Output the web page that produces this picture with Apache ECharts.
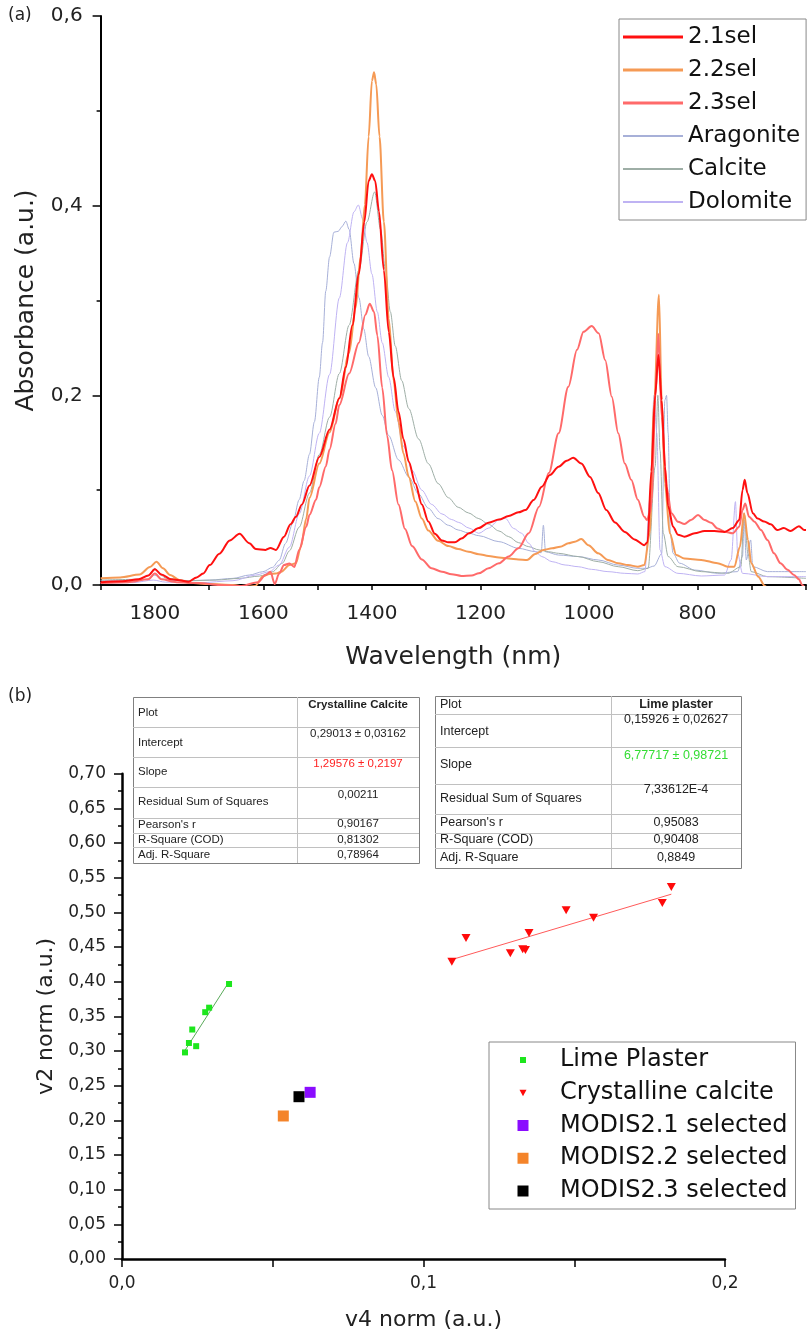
<!DOCTYPE html>
<html><head><meta charset="utf-8">
<script src="https://cdn.jsdelivr.net/npm/echarts@6/dist/echarts.min.js"></script>
<style>html,body{margin:0;padding:0;background:#fff}#c{width:809px;height:1338px}</style>
</head><body><div id="c"></div>
<script>
// ===== Panel (a): spectra, [wavelength, absorbance] =====
const sel21 = [[1900,0.003],[1860,0.004],[1830,0.006],[1812,0.01],[1800,0.0165],[1788,0.011],[1770,0.006],[1755,0.005],[1738,0.0035],[1723,0.008],[1711,0.012],[1699,0.021],[1681,0.033],[1662,0.047],[1644,0.054],[1626,0.044],[1614,0.038],[1596,0.037],[1587,0.039],[1577,0.037],[1562,0.051],[1550,0.064],[1540,0.072],[1529,0.085],[1515,0.105],[1497,0.135],[1478,0.164],[1460,0.197],[1448,0.23],[1436,0.274],[1424,0.328],[1414,0.383],[1406,0.426],[1400,0.433],[1394,0.426],[1387,0.394],[1378,0.332],[1369,0.267],[1360,0.219],[1351,0.183],[1342,0.154],[1332,0.13],[1320,0.107],[1308,0.085],[1296,0.067],[1284,0.054],[1271,0.047],[1259,0.045],[1247,0.045],[1235,0.049],[1221,0.0545],[1203,0.06],[1185,0.0657],[1166,0.069],[1148,0.0727],[1130,0.0766],[1117,0.079],[1102,0.0896],[1087,0.1037],[1072,0.116],[1056,0.1248],[1041,0.131],[1029,0.1343],[1014,0.128],[998,0.114],[983,0.097],[968,0.079],[952,0.066],[934,0.056],[916,0.048],[898,0.042],[892,0.045],[885,0.12],[878,0.2],[872,0.2425],[866,0.195],[860,0.125],[854,0.083],[845,0.0615],[836,0.053],[824,0.051],[805,0.0545],[787,0.057],[769,0.057],[750,0.056],[735,0.06],[723,0.0685],[717,0.1],[713,0.111],[708,0.097],[698,0.0756],[689,0.07],[677,0.067],[665,0.064],[653,0.058],[641,0.06],[628,0.057],[613,0.062],[603,0.058],[600,0.058]];
const sel22 = [[1900,0.007],[1864,0.008],[1828,0.011],[1809,0.019],[1797,0.0246],[1785,0.0176],[1772,0.0105],[1754,0.005],[1736,0.0024],[1699,0.001],[1656,0.0],[1632,-0.002],[1615,-0.001],[1601,0.009],[1589,0.0116],[1577,0.012],[1567,0.014],[1552,0.021],[1540,0.023],[1531,0.04],[1521,0.07],[1515,0.092],[1497,0.128],[1478,0.161],[1460,0.197],[1442,0.245],[1430,0.292],[1421,0.346],[1413,0.401],[1406,0.473],[1400,0.5315],[1396,0.5406],[1392,0.528],[1386,0.473],[1378,0.383],[1369,0.281],[1360,0.2155],[1351,0.172],[1342,0.139],[1332,0.114],[1320,0.088],[1308,0.07],[1296,0.0575],[1278,0.0466],[1259,0.041],[1241,0.038],[1222,0.035],[1203,0.0325],[1185,0.0306],[1166,0.029],[1148,0.028],[1130,0.027],[1114,0.0264],[1099,0.0327],[1084,0.0369],[1068,0.0387],[1053,0.0404],[1038,0.0439],[1026,0.0457],[1014,0.0485],[1001,0.042],[983,0.0334],[965,0.0264],[946,0.023],[928,0.021],[910,0.0193],[898,0.021],[888,0.0545],[880,0.19],[871,0.306],[866,0.195],[860,0.107],[851,0.0545],[839,0.0316],[824,0.028],[793,0.0264],[763,0.023],[744,0.0193],[732,0.0193],[722,0.04],[714,0.0756],[707,0.0475],[701,0.023],[688,0.0088],[676,-0.001],[665,-0.01]];
const sel23 = [[1900,0.002],[1850,0.003],[1812,0.006],[1800,0.012],[1788,0.006],[1760,0.003],[1720,0.002],[1680,0.0],[1640,-0.001],[1610,0.003],[1596,0.0105],[1587,0.014],[1579,0.001],[1571,0.012],[1562,0.021],[1552,0.0228],[1543,0.019],[1534,0.037],[1521,0.0615],[1515,0.074],[1503,0.09],[1497,0.103],[1485,0.125],[1478,0.143],[1467,0.17],[1460,0.19],[1442,0.223],[1424,0.2555],[1412,0.285],[1404,0.2965],[1396,0.288],[1390,0.263],[1381,0.208],[1372,0.1575],[1363,0.121],[1351,0.085],[1339,0.059],[1326,0.041],[1308,0.027],[1290,0.0176],[1271,0.014],[1253,0.0114],[1235,0.0096],[1216,0.01],[1203,0.0123],[1185,0.0176],[1166,0.0229],[1148,0.03],[1130,0.0387],[1111,0.0545],[1092,0.0826],[1074,0.118],[1056,0.16],[1038,0.209],[1022,0.248],[1010,0.267],[995,0.273],[982,0.2654],[970,0.237],[958,0.1986],[946,0.16],[934,0.128],[922,0.111],[910,0.09],[898,0.072],[893,0.0685],[888,0.0756],[884,0.09],[878,0.195],[872,0.265],[866,0.1775],[857,0.1037],[848,0.0756],[836,0.0668],[824,0.0643],[812,0.0685],[799,0.0738],[787,0.0685],[775,0.0657],[763,0.0597],[750,0.0562],[735,0.0545],[723,0.0615],[717,0.079],[712,0.086],[705,0.072],[695,0.0668],[683,0.058],[671,0.0475],[659,0.0334],[647,0.023],[634,0.016],[622,0.0105],[613,0.006],[607,0.0],[600,-0.005]];
const aragonite = [[1900,0.0045],[1840,0.0045],[1812,0.006],[1800,0.0105],[1788,0.006],[1748,0.0045],[1699,0.0052],[1656,0.007],[1626,0.0105],[1601,0.014],[1583,0.0186],[1571,0.026],[1559,0.044],[1546,0.065],[1534,0.09],[1525,0.11],[1515,0.138],[1506,0.172],[1497,0.219],[1491,0.2555],[1485,0.31],[1478,0.346],[1470,0.372],[1462,0.373],[1455,0.378],[1448,0.3837],[1442,0.375],[1433,0.339],[1424,0.303],[1415,0.27],[1406,0.241],[1393,0.208],[1381,0.179],[1369,0.1575],[1351,0.132],[1332,0.114],[1314,0.096],[1296,0.081],[1278,0.07],[1259,0.063],[1241,0.058],[1223,0.055],[1203,0.052],[1166,0.0457],[1130,0.0387],[1099,0.0352],[1088,0.034],[1084,0.063],[1080,0.035],[1056,0.0316],[1020,0.03],[983,0.0264],[946,0.021],[910,0.0176],[894,0.0176],[880,0.02],[866,0.033],[860,0.195],[857,0.2],[854,0.16],[850,0.0545],[845,0.0334],[833,0.023],[805,0.0158],[763,0.0123],[726,0.0141],[717,0.03],[714,0.0685],[710,0.0264],[702,0.0475],[698,0.0193],[671,0.0141],[600,0.0141]];
const calcite = [[1900,0.0052],[1828,0.006],[1812,0.01],[1800,0.0176],[1788,0.01],[1779,0.007],[1736,0.0045],[1687,0.0052],[1644,0.007],[1607,0.0094],[1583,0.014],[1565,0.023],[1552,0.036],[1534,0.061],[1515,0.097],[1497,0.1375],[1478,0.177],[1460,0.223],[1442,0.274],[1424,0.332],[1409,0.383],[1395,0.4145],[1384,0.375],[1375,0.332],[1366,0.288],[1357,0.252],[1345,0.2155],[1332,0.186],[1314,0.154],[1296,0.128],[1278,0.107],[1259,0.092],[1241,0.082],[1222,0.076],[1203,0.07],[1185,0.064],[1166,0.057],[1148,0.051],[1130,0.0447],[1111,0.0404],[1092,0.037],[1074,0.035],[1056,0.0334],[1020,0.03],[983,0.0246],[946,0.0193],[910,0.0151],[891,0.0176],[878,0.125],[873,0.2],[869,0.142],[863,0.0545],[854,0.03],[836,0.0193],[793,0.0141],[744,0.0123],[720,0.0193],[714,0.0756],[707,0.0334],[701,0.0141],[671,0.0088],[600,0.007]];
const dolomite = [[1900,0.0021],[1840,0.0025],[1803,0.0052],[1780,0.003],[1717,0.0024],[1656,0.0045],[1614,0.0105],[1589,0.014],[1571,0.021],[1552,0.04],[1534,0.075],[1515,0.115],[1497,0.16],[1478,0.222],[1460,0.3027],[1445,0.361],[1433,0.3935],[1425,0.4007],[1417,0.386],[1409,0.361],[1400,0.328],[1390,0.288],[1381,0.2555],[1369,0.219],[1357,0.183],[1342,0.1465],[1326,0.121],[1308,0.1],[1290,0.085],[1271,0.075],[1253,0.069],[1240,0.066],[1221,0.06],[1203,0.0545],[1185,0.06],[1166,0.0685],[1154,0.0703],[1139,0.0597],[1124,0.0545],[1111,0.044],[1099,0.0352],[1087,0.03],[1068,0.0246],[1044,0.0211],[1020,0.0193],[995,0.0165],[965,0.0141],[934,0.0123],[910,0.0116],[897,0.0141],[888,0.09],[880,0.2],[875,0.16],[869,0.037],[860,0.0193],[836,0.0123],[793,0.0095],[750,0.0105],[738,0.0264],[730,0.0879],[726,0.0334],[717,0.0123],[671,0.0088],[600,0.0088]];
const spectraNames = ['2.1sel','2.2sel','2.3sel','Aragonite','Calcite','Dolomite'];

// ===== Panel (b): v4 norm vs v2 norm =====
const limeV4 = [0.0209,0.0222,0.0233,0.0246,0.0276,0.0289,0.0355];
const limeV2 = [0.298,0.3116,0.331,0.307,0.356,0.3625,0.3967];
const crystV4 = [0.1094,0.1141,0.1288,0.1329,0.1338,0.135,0.1473,0.1564,0.1792,0.1822];
const crystV2 = [0.4288,0.463,0.441,0.4467,0.4457,0.4702,0.503,0.4923,0.5135,0.5366];
const modisNames = ['MODIS2.1 selected','MODIS2.2 selected','MODIS2.3 selected'];
const modisV4 = [0.0624,0.0535,0.0587];
const modisV2 = [0.2404,0.2063,0.2341];
const fitCryst = [0.29013, 1.29576]; // intercept, slope
const fitLime = [0.15926, 6.77717];
const tableCrystRows = [['Plot','Crystalline Calcite'],['Intercept','0,29013 ± 0,03162'],['Slope','1,29576 ± 0,2197'],['Residual Sum of Squares','0,00211'],["Pearson's r",'0,90167'],['R-Square (COD)','0,81302'],['Adj. R-Square','0,78964']];
const tableLimeRows = [['Plot','Lime plaster'],['Intercept','0,15926 ± 0,02627'],['Slope','6,77717 ± 0,98721'],['Residual Sum of Squares','7,33612E-4'],["Pearson's r",'0,95083'],['R-Square (COD)','0,90408'],['Adj. R-Square','0,8849']];

// ===== layout / style =====
const FONT = 'DejaVu Sans';
const geomCryst = {left:133,right:419,div:297,lines:[697,727,757,787,818,833,847,863],labelY:[713,743,772,802,825,840,855],valueY:[705,734,764,795,824,840,855],fs:11.5,slopeColor:'#ff2222'};
const geomLime = {left:435,right:741,div:611,lines:[696,714,747,784,814,833,848,868],labelY:[705,732,765,799,823,840,858],valueY:[705,720,756,790,823,840,858],fs:12.5,slopeColor:'#33dd33'};
const ICON_THICK = 'path://M0,0L60,0L60,3L0,3Z';
const ICON_THIN = 'path://M0,0L60,0L60,2L0,2Z';
const ICON_SMALL_SQ = 'path://M0,0M64,14M29,4L35,4L35,10L29,10Z';
const ICON_TRI = 'path://M0,0M64,14M28.5,4L35.5,4L32,10.5Z';
const ICON_BIG_SQ = 'path://M0,0M64,14M26.5,1.5L37.5,1.5L37.5,12.5L26.5,12.5Z';

function buildTable(rows, g){
  const els = [];
  const top = g.lines[0], bottom = g.lines[g.lines.length-1];
  els.push({type:'rect', z:50, shape:{x:g.left+0.5,y:top+0.5,width:g.right-g.left,height:bottom-top}, style:{fill:'#fff',stroke:'#808080',lineWidth:1}});
  for (let i=1;i<g.lines.length-1;i++){
    els.push({type:'line', z:51, shape:{x1:g.left,y1:g.lines[i]+0.5,x2:g.right,y2:g.lines[i]+0.5}, style:{stroke:'#c0c0c0',lineWidth:1}});
  }
  els.push({type:'line', z:51, shape:{x1:g.div+0.5,y1:top,x2:g.div+0.5,y2:bottom}, style:{stroke:'#c0c0c0',lineWidth:1}});
  const cx = (g.div+g.right)/2;
  rows.forEach((r,i)=>{
    els.push({type:'text', z:52, x:g.left+5, y:g.labelY[i], style:{text:r[0], font:g.fs+'px "Liberation Sans"', fill:'#222', textAlign:'left', textVerticalAlign:'middle', align:'left', verticalAlign:'middle'}});
    const bold = i===0 ? 'bold ' : '';
    const col = i===2 ? g.slopeColor : '#222';
    els.push({type:'text', z:52, x:cx, y:g.valueY[i], style:{text:r[1], font:bold+g.fs+'px "Liberation Sans"', fill:col, textAlign:'center', textVerticalAlign:'middle', align:'center', verticalAlign:'middle'}});
  });
  return els;
}
function fitLine(xs, fit){
  const lo = Math.min(...xs), hi = Math.max(...xs);
  return [[lo, fit[0]+fit[1]*lo],[hi, fit[0]+fit[1]*hi]];
}
const zip = (a,b)=>a.map((v,i)=>[v,b[i]]);

const chart = echarts.init(document.getElementById('c'), null, {renderer:'canvas'});
const axisText = {fontFamily:FONT, color:'#222'};
const lineSer = (name, data, color, width, z) => ({name, type:'line', xAxisIndex:0, yAxisIndex:0, data, symbol:'none', showSymbol:false, smooth:0.3, smoothMonotone:'x', z, lineStyle:{color, width}, itemStyle:{color}});

const option = {
  animation:false,
  backgroundColor:'#fff',
  grid:[
    {left:100.6, top:16, width:707.4, height:569, containLabel:false},
    {left:122, top:773.7, width:603, height:485.3, containLabel:false}
  ],
  xAxis:[
    {gridIndex:0, type:'value', inverse:true, min:600, max:1900, interval:100,
     axisLine:{show:true, onZero:false, lineStyle:{color:'#000', width:2}},
     axisTick:{show:true, length:5, lineStyle:{color:'#000', width:1.5}},
     axisLabel:{margin:19, fontSize:20, ...axisText, formatter:v=>(v%200===0 && v<=1800 && v>=800)?String(v):''},
     splitLine:{show:false},
     name:'Wavelength (nm)', nameLocation:'middle', nameGap:60, nameTextStyle:{fontSize:25, ...axisText}},
    {gridIndex:1, type:'value', min:0, max:0.2, interval:0.05,
     axisLine:{show:true, onZero:false, lineStyle:{color:'#000', width:2.5}},
     axisTick:{show:true, length:8, lineStyle:{color:'#000', width:1.5}},
     axisLabel:{margin:16, fontSize:17, ...axisText, formatter:v=>{const r=Math.round(v*100);return r%10===0?(r/100).toFixed(1).replace('.',','):'';}},
     splitLine:{show:false},
     name:'v4 norm (a.u.)', nameLocation:'middle', nameGap:50, nameTextStyle:{fontSize:22, ...axisText}}
  ],
  yAxis:[
    {gridIndex:0, type:'value', min:0, max:0.6, interval:0.2,
     axisLine:{show:true, onZero:false, lineStyle:{color:'#000', width:2}},
     axisTick:{show:true, length:8, lineStyle:{color:'#000', width:1.5}},
     minorTick:{show:true, splitNumber:2, length:4, lineStyle:{color:'#000', width:1.5}},
     axisLabel:{margin:18, fontSize:20, ...axisText, formatter:v=>v.toFixed(1).replace('.',',')},
     splitLine:{show:false}, minorSplitLine:{show:false},
     name:'Absorbance (a.u.)', nameLocation:'middle', nameGap:62, nameTextStyle:{fontSize:25, ...axisText}},
    {gridIndex:1, type:'value', min:0, max:0.7, interval:0.05,
     axisLine:{show:true, onZero:false, lineStyle:{color:'#000', width:2.5}},
     axisTick:{show:true, length:8, lineStyle:{color:'#000', width:1.5}},
     minorTick:{show:true, splitNumber:2, length:4, lineStyle:{color:'#000', width:1.5}},
     axisLabel:{margin:16, fontSize:17, ...axisText, formatter:v=>v.toFixed(2).replace('.',',')},
     splitLine:{show:false}, minorSplitLine:{show:false},
     name:'v2 norm (a.u.)', nameLocation:'middle', nameGap:60, nameTextStyle:{fontSize:22, ...axisText}}
  ],
  legend:[
    {left:619, top:19, orient:'vertical', padding:[4,6,4,4], itemWidth:60, itemHeight:14, itemGap:5,
     borderColor:'#888', borderWidth:1, backgroundColor:'#fff',
     textStyle:{fontFamily:FONT, fontSize:23, lineHeight:28, color:'#111'},
     data:spectraNames.map((n,i)=>({name:n, icon: i<3 ? ICON_THICK : ICON_THIN}))},
    {left:489, top:1042, orient:'vertical', padding:[4,8,4,2], itemWidth:64, itemHeight:14, itemGap:4.75,
     borderColor:'#888', borderWidth:1, backgroundColor:'#fff', symbolRotate:0,
     textStyle:{fontFamily:FONT, fontSize:24, lineHeight:28, color:'#111'},
     data:[
       {name:'Lime Plaster', icon:ICON_SMALL_SQ},
       {name:'Crystalline calcite', icon:ICON_TRI},
       {name:modisNames[0], icon:ICON_BIG_SQ},
       {name:modisNames[1], icon:ICON_BIG_SQ},
       {name:modisNames[2], icon:ICON_BIG_SQ}
     ]}
  ],
  graphic:[
    {type:'text', x:8, y:16, style:{text:'(a)', font:'17px "DejaVu Sans"', fill:'#222', textVerticalAlign:'middle', verticalAlign:'middle'}},
    {type:'text', x:8, y:697, style:{text:'(b)', font:'17px "DejaVu Sans"', fill:'#222', textVerticalAlign:'middle', verticalAlign:'middle'}},
    ...buildTable(tableCrystRows, geomCryst),
    ...buildTable(tableLimeRows, geomLime)
  ],
  series:[
    lineSer(spectraNames[3], aragonite, '#a7b0d8', 1, 2),
    lineSer(spectraNames[4], calcite, '#9eaea6', 1, 2),
    lineSer(spectraNames[5], dolomite, '#bfb3f3', 1, 2),
    lineSer(spectraNames[1], sel22, '#f59a55', 2, 3),
    lineSer(spectraNames[2], sel23, '#ff6a6a', 2, 3),
    lineSer(spectraNames[0], sel21, '#ff1010', 2, 4),
    {name:'limeFit', type:'line', xAxisIndex:1, yAxisIndex:1, data:fitLine(limeV4, fitLime), symbol:'none', lineStyle:{color:'#5aaa5a', width:1}, z:2},
    {name:'crystFit', type:'line', xAxisIndex:1, yAxisIndex:1, data:fitLine(crystV4, fitCryst), symbol:'none', lineStyle:{color:'#ff5a5a', width:1}, z:2},
    {name:'Lime Plaster', type:'scatter', xAxisIndex:1, yAxisIndex:1, data:zip(limeV4, limeV2), symbol:'rect', symbolSize:6, itemStyle:{color:'#1de61d', opacity:1}, z:3},
    {name:'Crystalline calcite', type:'scatter', xAxisIndex:1, yAxisIndex:1, data:zip(crystV4, crystV2), symbol:'triangle', symbolRotate:180, symbolSize:[9,8], itemStyle:{color:'#ff0a0a', opacity:1}, z:3},
    {name:modisNames[0], type:'scatter', xAxisIndex:1, yAxisIndex:1, data:[[modisV4[0], modisV2[0]]], symbol:'rect', symbolSize:11, itemStyle:{color:'#8a0cff', opacity:1}, z:3},
    {name:modisNames[1], type:'scatter', xAxisIndex:1, yAxisIndex:1, data:[[modisV4[1], modisV2[1]]], symbol:'rect', symbolSize:11, itemStyle:{color:'#f4842a', opacity:1}, z:3},
    {name:modisNames[2], type:'scatter', xAxisIndex:1, yAxisIndex:1, data:[[modisV4[2], modisV2[2]]], symbol:'rect', symbolSize:11, itemStyle:{color:'#000000', opacity:1}, z:3}
  ]
};
chart.setOption(option);
</script></body></html>
